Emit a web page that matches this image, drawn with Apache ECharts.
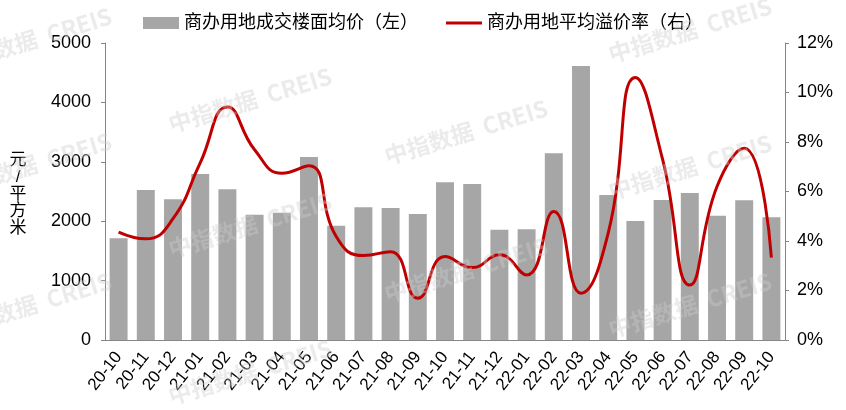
<!DOCTYPE html>
<html>
<head>
<meta charset="utf-8">
<script src="https://cdn.jsdelivr.net/npm/echarts@6/dist/echarts.min.js"></script>
<style>html,body{margin:0;padding:0;background:#fff}#c{width:846px;height:410px}</style>
</head>
<body>
<div id="c"></div>
<script>
var categories = ['20-10','20-11','20-12','21-01','21-02','21-03','21-04','21-05','21-06','21-07','21-08','21-09','21-10','21-11','21-12','22-01','22-02','22-03','22-04','22-05','22-06','22-07','22-08','22-09','22-10'];
var priceValues = [1712,2525,2369,2795,2537,2110,2143,3081,1925,2233,2222,2121,2655,2626,1857,1863,3143,4613,2441,2003,2357,2475,2093,2352,2066];
var premiumValues = [4.36,4.09,4.9,7.16,9.41,7.69,6.74,7.04,4.18,3.41,3.57,1.69,3.37,2.93,3.44,2.63,5.19,1.89,4.32,10.61,7.3,2.22,6.2,7.75,3.33];
var leftTicks = {min:0, max:5000, interval:1000};
var rightTicks = {min:0, max:12, interval:2};
var seriesNames = ['商办用地成交楼面均价（左）','商办用地平均溢价率（右）'];
var yAxisName = ['元','/','平','方','米'];
var watermarkText = '中指数据  CREIS';
var watermarkSpots = [[30,40],[30,165],[30,305],[250,100],[250,225],[250,372],[466,132],[466,270],[690,30],[690,167],[690,305]];

var FONT = '"Liberation Sans", Arial, "Noto Sans CJK SC", sans-serif';
var chart = echarts.init(document.getElementById('c'));
var graphics = [{
  type:'text', x:18, y:152, z:10,
  style:{text:yAxisName.join('\n'), fontSize:17, fontFamily:FONT, fill:'#000', lineHeight:17, align:'center', verticalAlign:'top'}
}];
watermarkSpots.forEach(function(p){
  graphics.push({
    type:'text', x:p[0], y:p[1], rotation:17*Math.PI/180, z:100, silent:true,
    style:{text:watermarkText, fontSize:23, fontWeight:'bold', fontFamily:'"Noto Sans CJK SC", sans-serif', fill:'rgba(205,205,205,0.4)', align:'center', verticalAlign:'middle'}
  });
});
chart.setOption({
  animation:false,
  textStyle:{fontFamily:FONT},
  grid:{left:105, right:61, top:43, bottom:70, containLabel:false},
  legend:{
    top:9, left:'center', itemGap:28, itemWidth:36, itemHeight:12,
    textStyle:{fontSize:18, color:'#000', fontFamily:FONT},
    data:[
      {name:seriesNames[0], icon:'rect'},
      {name:seriesNames[1], icon:'path://M0,0L0.01,0L0.01,0.01L0,0.01ZM0,4.5H36V7.5H0ZM35.99,11.99L36,11.99L36,12L35.99,12Z'}
    ]
  },
  graphic:graphics,
  xAxis:{
    type:'category', data:categories,
    axisLine:{lineStyle:{color:'#868686', width:1}},
    axisTick:{show:false},
    axisLabel:{rotate:52, fontSize:17, color:'#000', interval:0, margin:14}
  },
  yAxis:[{
    type:'value', min:leftTicks.min, max:leftTicks.max, interval:leftTicks.interval,
    axisLine:{show:true, lineStyle:{color:'#868686'}},
    axisTick:{show:true, length:4, lineStyle:{color:'#868686'}},
    splitLine:{show:false},
    axisLabel:{fontSize:18, color:'#000', margin:14, formatter:function(v){return String(v);}}
  },{
    type:'value', min:rightTicks.min, max:rightTicks.max, interval:rightTicks.interval,
    axisLine:{show:true, lineStyle:{color:'#868686'}},
    axisTick:{show:true, length:4, lineStyle:{color:'#868686'}},
    splitLine:{show:false},
    axisLabel:{fontSize:18, color:'#000', margin:12, formatter:'{value}%'}
  }],
  series:[{
    name:seriesNames[0], type:'bar', data:priceValues, yAxisIndex:0,
    barWidth:'66%', itemStyle:{color:'#A6A6A6'}
  },{
    name:seriesNames[1], type:'line', data:premiumValues, yAxisIndex:1,
    smooth:0.5, symbol:'none', lineStyle:{color:'#C00000', width:3}, itemStyle:{color:'#C00000'}
  }]
});
</script>
</body>
</html>
